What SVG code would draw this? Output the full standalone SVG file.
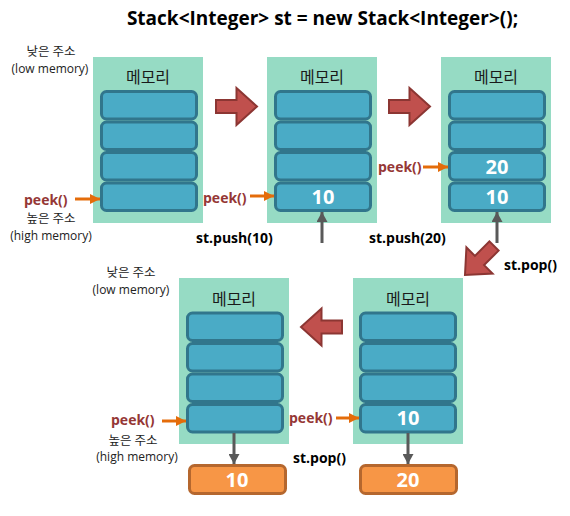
<svg xmlns="http://www.w3.org/2000/svg" width="570" height="516" viewBox="0 0 570 516">
<defs>
<style>
.panel{fill:#96dbc4}
.cell{fill:#4aabc6;stroke:#31768c;stroke-width:3}
.out{fill:#f79646;stroke:#b5672e;stroke-width:3}
.ttl{font-family:"Open Sans","Noto Sans CJK KR",sans-serif;font-size:16px;fill:#1a1a1a;text-anchor:middle}
.num{font-family:"Open Sans","Noto Sans CJK KR",sans-serif;font-size:20px;font-weight:bold;fill:#ffffff;text-anchor:middle}
.lbl{font-family:"Open Sans","Noto Sans CJK KR",sans-serif;font-size:12px;fill:#222;text-anchor:middle}
.kor{font-family:"Noto Sans CJK KR",sans-serif;font-size:12.5px;fill:#222;text-anchor:middle}
.peek{font-family:"Open Sans","Noto Sans CJK KR",sans-serif;font-size:14px;font-weight:bold;fill:#953735}
.op{font-family:"Open Sans","Noto Sans CJK KR",sans-serif;font-size:14px;font-weight:bold;fill:#000}
.big{fill:#c0504d;stroke:#8c3633;stroke-width:2;stroke-linejoin:miter}
.oa{stroke:#e46c0a;stroke-width:3;fill:none}
.ga{stroke:#595959;stroke-width:3;fill:none}
</style>
<marker id="mo" markerUnits="userSpaceOnUse" markerWidth="10" markerHeight="10" viewBox="0 0 10 10" refX="10" refY="5" orient="auto"><path d="M0,0 L10,5 L0,10 z" fill="#e46c0a"/></marker>
<marker id="mg" markerUnits="userSpaceOnUse" markerWidth="10" markerHeight="11" viewBox="0 0 10 11" refX="10" refY="5.5" orient="auto"><path d="M0,0 L10,5.5 L0,11 z" fill="#595959"/></marker>
<path id="bigarrow" d="M-20.5,-6.5 L0,-6.5 L0,-18.5 L20.5,0 L0,18.5 L0,6.5 L-20.5,6.5 z"/>
</defs>
<rect width="570" height="516" fill="#ffffff"/>
<text x="322.5" y="25" font-family="'Open Sans','Noto Sans CJK KR',sans-serif" font-size="19" font-weight="bold" text-anchor="middle" fill="#000">Stack&lt;Integer&gt; st = new Stack&lt;Integer&gt;();</text>

<g id="labels-top">
<text class="kor" x="51" y="56">낮은 주소</text>
<text class="lbl" x="50" y="73">(low memory)</text>
<text class="kor" x="51" y="223">높은 주소</text>
<text class="lbl" x="51" y="240">(high memory)</text>
</g>
<g id="labels-bottom">
<text class="kor" x="131" y="277">낮은 주소</text>
<text class="lbl" x="131" y="294">(low memory)</text>
<text class="kor" x="133" y="445">높은 주소</text>
<text class="lbl" x="137" y="461">(high memory)</text>
</g>

<g id="stack1">
<rect class="panel" x="93" y="57" width="110" height="166"/>
<text class="ttl" x="148" y="83">메모리</text>
<rect class="cell" x="101.5" y="91.5" width="95" height="27.5" rx="5"/>
<rect class="cell" x="101.5" y="122" width="95" height="27.5" rx="5"/>
<rect class="cell" x="101.5" y="152.5" width="95" height="27.5" rx="5"/>
<rect class="cell" x="101.5" y="183" width="95" height="27.5" rx="5"/>
<text class="peek" x="24" y="205">peek()</text>
</g>

<g id="stack2">
<rect class="panel" x="267" y="57" width="110" height="166"/>
<text class="ttl" x="322" y="83">메모리</text>
<rect class="cell" x="275.5" y="91.5" width="95" height="27.5" rx="5"/>
<rect class="cell" x="275.5" y="122" width="95" height="27.5" rx="5"/>
<rect class="cell" x="275.5" y="152.5" width="95" height="27.5" rx="5"/>
<rect class="cell" x="275.5" y="183" width="95" height="27.5" rx="5"/>
<text class="num" x="323" y="204">10</text>
<text class="peek" x="203" y="203">peek()</text>
<text class="op" x="196" y="243">st.push(10)</text>
</g>

<g id="stack3">
<rect class="panel" x="441" y="57" width="110" height="166"/>
<text class="ttl" x="496" y="83">메모리</text>
<rect class="cell" x="449.5" y="91.5" width="95" height="27.5" rx="5"/>
<rect class="cell" x="449.5" y="122" width="95" height="27.5" rx="5"/>
<rect class="cell" x="449.5" y="152.5" width="95" height="27.5" rx="5"/>
<rect class="cell" x="449.5" y="183" width="95" height="27.5" rx="5"/>
<text class="num" x="497" y="174">20</text>
<text class="num" x="497" y="204">10</text>
<text class="peek" x="378" y="172">peek()</text>
<text class="op" x="369" y="243">st.push(20)</text>
<text class="op" x="504" y="270">st.pop()</text>
</g>

<g id="stack4">
<rect class="panel" x="179" y="278" width="110" height="166"/>
<text class="ttl" x="234" y="305">메모리</text>
<rect class="cell" x="187.5" y="313" width="95" height="27.5" rx="5"/>
<rect class="cell" x="187.5" y="343.5" width="95" height="27.5" rx="5"/>
<rect class="cell" x="187.5" y="374" width="95" height="27.5" rx="5"/>
<rect class="cell" x="187.5" y="404.5" width="95" height="27.5" rx="5"/>
<text class="peek" x="111" y="425">peek()</text>
</g>

<g id="stack5">
<rect class="panel" x="353" y="278" width="110" height="166"/>
<text class="ttl" x="408" y="305">메모리</text>
<rect class="cell" x="360.5" y="313" width="95" height="27.5" rx="5"/>
<rect class="cell" x="360.5" y="343.5" width="95" height="27.5" rx="5"/>
<rect class="cell" x="360.5" y="374" width="95" height="27.5" rx="5"/>
<rect class="cell" x="360.5" y="404.5" width="95" height="27.5" rx="5"/>
<text class="num" x="408" y="425">10</text>
<text class="peek" x="289" y="423">peek()</text>
<text class="op" x="293" y="463">st.pop()</text>
</g>

<g id="popped10">
<rect class="out" x="189.5" y="465.5" width="96" height="28" rx="5"/>
<text class="num" x="237" y="487">10</text>
</g>
<g id="popped20">
<rect class="out" x="360.5" y="465.5" width="96" height="28" rx="5"/>
<text class="num" x="408" y="487">20</text>
</g>

<g id="connectors">
<use href="#bigarrow" class="big" transform="translate(236.5,106.5)"/>
<use href="#bigarrow" class="big" transform="translate(409.5,106.5)"/>
<use href="#bigarrow" class="big" transform="translate(479.5,260.5) rotate(135)"/>
<use href="#bigarrow" class="big" transform="translate(321.5,327) rotate(180)"/>
<line class="oa" x1="75" y1="199" x2="100" y2="199" marker-end="url(#mo)"/>
<line class="oa" x1="250" y1="196" x2="274" y2="196" marker-end="url(#mo)"/>
<line class="oa" x1="423" y1="167" x2="448" y2="167" marker-end="url(#mo)"/>
<line class="oa" x1="162" y1="421" x2="186" y2="421" marker-end="url(#mo)"/>
<line class="oa" x1="336" y1="418" x2="359" y2="418" marker-end="url(#mo)"/>
<line class="ga" x1="322" y1="243" x2="322" y2="212" marker-end="url(#mg)"/>
<line class="ga" x1="497" y1="243" x2="497" y2="212" marker-end="url(#mg)"/>
<line class="ga" x1="234" y1="433" x2="234" y2="464" marker-end="url(#mg)"/>
<line class="ga" x1="408" y1="433" x2="408" y2="464" marker-end="url(#mg)"/>
</g>
</svg>
